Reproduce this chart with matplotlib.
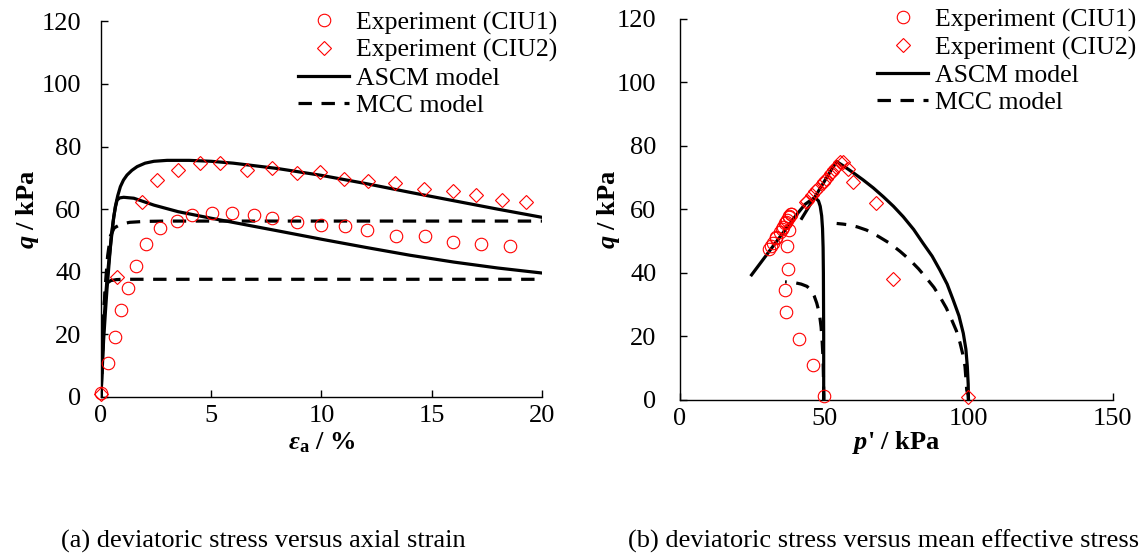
import matplotlib
matplotlib.use("Agg")
import matplotlib.pyplot as plt
from matplotlib.lines import Line2D

plt.rcParams['font.family'] = 'Liberation Serif'
plt.rcParams['mathtext.fontset'] = 'custom'
plt.rcParams['mathtext.rm'] = 'Liberation Serif'
plt.rcParams['mathtext.it'] = 'Liberation Serif:italic'
plt.rcParams['mathtext.bf'] = 'Liberation Serif:bold'
plt.rcParams['mathtext.bfit'] = 'Liberation Serif:bold:italic'

# ---- (a) q vs axial strain ----
strain_ciu1 = [0, 0.32, 0.65, 0.93, 1.23, 1.59, 2.05, 2.67, 3.45, 4.15, 5.02, 5.95,
               6.94, 7.74, 8.91, 9.97, 11.06, 12.05, 13.4, 14.71, 15.95, 17.25, 18.56]
q_ciu1 = [1.3, 11.0, 19.2, 27.7, 34.8, 41.8, 48.8, 54.0, 56.1, 58.0, 58.8, 58.8,
          58.0, 57.1, 55.9, 54.9, 54.5, 53.3, 51.4, 51.3, 49.5, 48.8, 48.3]
strain_ciu2 = [0, 0.73, 1.86, 2.52, 3.5, 4.49, 5.38, 6.61, 7.74, 8.88, 9.94, 11.03,
               12.12, 13.35, 14.67, 15.95, 16.99, 18.18, 19.26]
q_ciu2 = [0.9, 38.3, 62.2, 69.2, 72.6, 74.8, 74.8, 72.6, 73.3, 71.6, 71.8, 69.6,
          68.9, 68.4, 66.3, 65.7, 64.5, 62.8, 62.3]

ascm1_strain = [0, 0.05, 0.12, 0.2, 0.27, 0.35, 0.43, 0.5, 0.58, 0.66, 0.73, 0.85,
                1.03, 1.49, 2.4, 3.5, 5.0, 6.5, 8.0, 10, 12, 14, 16, 18, 20]
ascm1_q = [0, 9, 22.5, 31, 37.4, 43, 48, 52.5, 57.6, 60.8, 62.9, 63.6,
           63.8, 63.5, 61.3, 59.2, 57.1, 55.1, 53.1, 50.4, 47.8, 45.3, 43.1, 41.2, 39.6]
ascm2_strain = [0, 0.05, 0.12, 0.2, 0.27, 0.36, 0.45, 0.55, 0.65, 0.76, 0.88, 1.02,
                1.18, 1.4, 1.64, 2.0, 2.4, 3.0, 4.0, 5.0, 6.0, 8.0, 10, 12, 14, 16, 18, 20]
ascm2_q = [0, 8, 18.2, 27, 34.2, 42, 50.2, 56, 60.8, 64.3, 67.2, 69.3,
           70.9, 72.4, 73.6, 74.7, 75.3, 75.6, 75.6, 75.3, 74.7, 73.0, 70.8, 68.2,
           65.4, 62.7, 60.0, 57.4]
mcc1_strain = [0, 0.05, 0.1, 0.15, 0.2, 0.3, 0.45, 0.7, 1.0, 20]
mcc1_q = [0, 12, 22, 30, 34.5, 36.5, 37.2, 37.5, 37.6, 37.6]
mcc2_strain = [0, 0.05, 0.1, 0.15, 0.2, 0.3, 0.43, 0.6, 0.9, 1.3, 2.0, 3.0, 20]
mcc2_q = [0, 10, 20, 29, 36, 45, 51.5, 54, 55.2, 55.8, 56.1, 56.2, 56.2]

# ---- (b) q vs p' ----
p_ciu1 = [50.0, 46.2, 41.2, 36.9, 36.5, 37.5, 37.0, 37.8, 36.6, 37.8, 38.3, 38.3,
          37.7, 37.1, 36.4, 35.6, 35.2, 34.5, 33.4, 33.2, 32.1, 31.5, 30.9]
qp_ciu1 = [1.4, 11.0, 19.1, 27.6, 34.6, 41.4, 48.5, 53.4, 56.0, 57.8, 58.6, 58.5,
           57.6, 56.8, 55.7, 54.6, 54.0, 52.9, 51.2, 50.9, 49.3, 48.4, 47.6]
p_ciu2 = [100.0, 73.9, 67.9, 60.1, 58.3, 56.6, 55.6, 53.4, 54.0, 52.4, 52.6, 50.5,
          49.8, 49.4, 47.4, 46.8, 45.7, 44.0, 43.6]
qp_ciu2 = [0.9, 38.2, 61.9, 68.8, 72.6, 74.8, 74.8, 72.6, 73.3, 71.6, 71.8, 69.6,
           68.9, 68.4, 66.3, 65.7, 64.5, 62.8, 62.3]

ascm1_p = [49.8, 49.8, 49.8, 49.75, 49.7, 49.6, 49.4, 49.1, 48.6, 48.0, 47.2, 46.3,
           45.3, 43.3, 40.0, 35.0, 30.0, 24.8]
ascm1_qp = [0, 10, 20, 30, 40, 48, 54, 58, 61, 62.7, 63.4, 63.5,
            62.9, 61.6, 57.9, 51.8, 45.7, 39.4]
ascm2_p = [100.0, 99.9, 99.6, 99.1, 98.2, 96.7, 94.7, 92.6, 90.1, 87.4, 84.3, 81.0,
           77.4, 74.0, 70.5, 67.0, 63.5, 60.0, 57.0, 54.3, 52.0, 48.0, 42.2]
ascm2_qp = [0, 5, 10.5, 16, 21.0, 26.5, 31.5, 36.5, 40.9, 45.3, 49.3, 53.7,
            57.7, 61.0, 64.0, 66.8, 69.3, 71.6, 73.5, 75.1, 71.8, 65.8, 57.2]
mcc1_p = [49.8, 49.8, 49.7, 49.6, 49.3, 48.9, 48.3, 47.4, 46.5, 45.6, 44.0, 42.0,
          40.0, 38.0, 36.4]
mcc1_qp = [0, 3, 8, 12.6, 18, 23, 27.3, 30.5, 32.8, 34.4, 35.8, 36.5,
           36.9, 37.1, 37.2]
mcc2_p = [100.0, 99.9, 99.4, 98.8, 98.0, 97.1, 95.8, 94.2, 92.3, 90.1, 88.0, 85.5,
          82.7, 79.7, 76.3, 72.8, 68.8, 64.7, 61.5, 58.9, 56.5, 54.3]
mcc2_qp = [0, 1.5, 3.1, 10.5, 14.5, 17.9, 21.8, 25.2, 29.0, 32.5, 35.5, 38.3,
           41.3, 44.1, 46.8, 49.3, 51.5, 53.5, 54.5, 55.1, 55.4, 55.6]

legend_labels = ['Experiment (CIU1)', 'Experiment (CIU2)', 'ASCM model', 'MCC model']

FS = 19
FS_LEG = 18.5
LW = 2.3
DASH = (0, (4.2, 3.0))
mk = dict(linestyle='none', markerfacecolor='none', markeredgecolor='red', markeredgewidth=0.8)

fig = plt.figure(figsize=(11.41, 5.57), dpi=100)
ax1 = fig.add_axes([0.0885, 0.2873, 0.3865, 0.6743])
ax2 = fig.add_axes([0.596, 0.2819, 0.3792, 0.684])


def style(ax, xlim, xticks, ypad):
    ax.set_xlim(xlim)
    ax.set_ylim(0, 120)
    ax.set_xticks(xticks)
    ax.set_yticks(range(0, 121, 20))
    for s in ['top', 'right']:
        ax.spines[s].set_visible(False)
    for s in ['left', 'bottom']:
        ax.spines[s].set_linewidth(1.0)
    ax.tick_params(direction='in', length=5, width=1.0, labelsize=FS)
    ax.tick_params(axis='y', pad=ypad)
    ax.tick_params(axis='x', pad=6)


# (a)
ax1.plot(ascm1_strain, ascm1_q, color='black', lw=LW, zorder=2)
ax1.plot(ascm2_strain, ascm2_q, color='black', lw=LW, zorder=2)
ax1.plot(mcc1_strain, mcc1_q, color='black', lw=LW, linestyle=DASH, zorder=2)
ax1.plot(mcc2_strain, mcc2_q, color='black', lw=LW, linestyle=DASH, zorder=2)
ax1.plot(strain_ciu1, q_ciu1, marker='o', markersize=9, zorder=3, clip_on=False, **mk)
ax1.plot(strain_ciu2, q_ciu2, marker='D', markersize=7.5, zorder=3, clip_on=False, **mk)
style(ax1, (0, 20), [0, 5, 10, 15, 20], 14)
ax1.set_xlabel(r'$\mathbfit{\varepsilon}_\mathbf{a}$ / %', fontsize=FS, fontweight='bold')
ax1.set_ylabel(r'$\mathbfit{q}$ / kPa', fontsize=FS, fontweight='bold')
ax1.xaxis.set_label_coords(0.5, -0.09)
ax1.yaxis.set_label_coords(-0.137, 0.5)

# (b)
ax2.plot(ascm1_p, ascm1_qp, color='black', lw=LW, zorder=2)
ax2.plot(ascm2_p, ascm2_qp, color='black', lw=LW, zorder=2)
ax2.plot(mcc1_p, mcc1_qp, color='black', lw=LW, linestyle=DASH, zorder=2)
ax2.plot(mcc2_p, mcc2_qp, color='black', lw=LW, linestyle=DASH, zorder=2)
ax2.plot(p_ciu1, qp_ciu1, marker='o', markersize=9, zorder=3, clip_on=False, **mk)
ax2.plot(p_ciu2, qp_ciu2, marker='D', markersize=7.5, zorder=3, clip_on=False, **mk)
style(ax2, (0, 150), [0, 50, 100, 150], 17)
ax2.set_xlabel(r"$\mathbfit{p}$' / kPa", fontsize=FS, fontweight='bold')
ax2.set_ylabel(r'$\mathbfit{q}$ / kPa', fontsize=FS, fontweight='bold')
ax2.xaxis.set_label_coords(0.5, -0.075)
ax2.yaxis.set_label_coords(-0.133, 0.5)

handles = [Line2D([], [], marker='o', markersize=9, **mk),
           Line2D([], [], marker='D', markersize=7.5, **mk),
           Line2D([], [], color='black', lw=LW),
           Line2D([], [], color='black', lw=LW, linestyle=DASH)]

for ax, x0, y0 in [(ax1, 298 / 1141, 0.980), (ax2, 877 / 1141, 0.985)]:
    ax.legend(handles, legend_labels, loc='upper left', bbox_to_anchor=(x0, y0),
              bbox_transform=fig.transFigure, frameon=False, fontsize=FS_LEG,
              handlelength=2.0, handletextpad=0.25, labelspacing=0.17,
              borderpad=0, borderaxespad=0)

fig.text(263 / 1141, 1 - 541 / 557, '(a) deviatoric stress versus axial strain',
         fontsize=FS, ha='center', va='center')
fig.text(628 / 1141, 1 - 541 / 557, '(b) deviatoric stress versus mean effective stress',
         fontsize=FS, ha='left', va='center')

fig.savefig('out.png', dpi=100)
